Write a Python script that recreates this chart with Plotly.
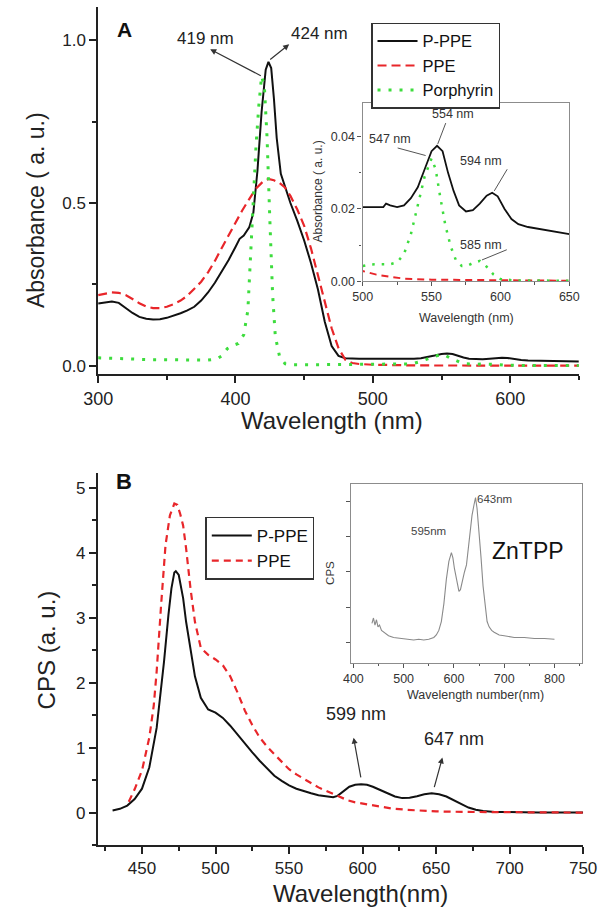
import plotly.graph_objects as go

FONT = "Liberation Sans, Arial, sans-serif"

# ---------------- Panel A : absorbance ----------------
a_pppe_x = [300, 305, 310, 315, 320, 325, 330, 335, 340, 345, 350, 355, 360, 365, 370, 375, 380, 385,
            390, 395, 400, 403, 406, 410, 413, 416, 419, 422, 424, 426, 428, 430, 433, 437, 440, 445,
            450, 455, 460, 465, 470, 475, 480, 490, 500, 510, 515, 517, 520, 525, 530, 535, 540, 545,
            550, 554, 558, 562, 566, 570, 575, 580, 585, 590, 594, 598, 603, 608, 613, 620, 630, 640, 650]
a_pppe_y = [0.191, 0.194, 0.197, 0.193, 0.178, 0.162, 0.150, 0.144, 0.142, 0.143, 0.147, 0.153, 0.161,
            0.170, 0.181, 0.200, 0.225, 0.255, 0.288, 0.325, 0.365, 0.390, 0.400, 0.425, 0.470, 0.600,
            0.780, 0.910, 0.934, 0.915, 0.820, 0.700, 0.590, 0.535, 0.500, 0.445, 0.385, 0.315, 0.235,
            0.135, 0.060, 0.030, 0.023, 0.021, 0.0205, 0.0205, 0.0205, 0.0215, 0.021, 0.0205, 0.021,
            0.023, 0.026, 0.031, 0.036, 0.0375, 0.036, 0.030, 0.025, 0.021, 0.0193, 0.0197, 0.0215,
            0.0237, 0.0245, 0.0235, 0.020, 0.0172, 0.0158, 0.015, 0.0143, 0.0136, 0.013]

a_ppe_x = [300, 305, 310, 315, 320, 325, 330, 335, 340, 345, 350, 355, 360, 365, 370, 375, 380, 385,
           390, 395, 400, 405, 410, 415, 420, 424, 428, 432, 436, 440, 445, 450, 455, 460, 465, 470,
           475, 480, 485, 490, 500, 510, 520, 530, 550, 600, 650]
a_ppe_y = [0.217, 0.222, 0.225, 0.224, 0.217, 0.205, 0.192, 0.182, 0.177, 0.177, 0.181, 0.189, 0.200,
           0.215, 0.235, 0.258, 0.287, 0.322, 0.362, 0.402, 0.440, 0.478, 0.512, 0.545, 0.566, 0.574,
           0.570, 0.562, 0.548, 0.522, 0.480, 0.430, 0.360, 0.278, 0.195, 0.115, 0.054, 0.018, 0.008,
           0.005, 0.0028, 0.0018, 0.0012, 0.0007, 0.0004, 0.0002, 0.0001]

a_por_x = [300, 310, 320, 330, 340, 350, 360, 370, 380, 386, 390, 394, 398, 402, 406, 409, 411, 413,
           415, 417, 419, 421, 423, 425, 427, 429, 432, 436, 440, 460, 480, 500, 505, 510, 515, 520,
           525, 530, 535, 540, 545, 550, 553, 556, 560, 564, 568, 572, 576, 580, 585, 590, 595, 600,
           610, 650]
a_por_y = [0.024, 0.022, 0.020, 0.019, 0.018, 0.018, 0.017, 0.017, 0.017, 0.020, 0.030, 0.052, 0.062,
           0.068, 0.095, 0.170, 0.350, 0.530, 0.680, 0.800, 0.890, 0.860, 0.700, 0.450, 0.220, 0.090,
           0.030, 0.006, 0.003, 0.003, 0.003, 0.0042, 0.0046, 0.0047, 0.0046, 0.0047, 0.0052, 0.0075,
           0.013, 0.021, 0.029, 0.034, 0.031, 0.024, 0.0155, 0.0095, 0.0055, 0.0042, 0.0043, 0.0050,
           0.0056, 0.0040, 0.0018, 0.0006, 0.0002, 0.0001]

# ---------------- Panel B : emission ----------------
b_pppe_x = [430, 435, 440, 445, 450, 455, 460, 465, 468, 470, 472, 473, 475, 478, 480, 483, 486, 490,
            495, 500, 505, 510, 515, 520, 525, 530, 535, 540, 545, 550, 555, 560, 565, 570, 575, 580,
            583, 587, 591, 595, 599, 603, 607, 612, 617, 622, 627, 632, 637, 642, 647, 652, 657, 662,
            667, 672, 677, 682, 690, 700, 720, 750]
b_pppe_y = [0.035, 0.06, 0.11, 0.21, 0.37, 0.70, 1.31, 2.33, 3.05, 3.45, 3.70, 3.72, 3.66, 3.30, 2.94,
            2.50, 2.10, 1.77, 1.59, 1.54, 1.46, 1.34, 1.20, 1.06, 0.93, 0.80, 0.68, 0.57, 0.49, 0.42,
            0.37, 0.33, 0.30, 0.27, 0.25, 0.24, 0.26, 0.33, 0.40, 0.43, 0.44, 0.43, 0.40, 0.35, 0.30,
            0.25, 0.225, 0.23, 0.255, 0.285, 0.30, 0.285, 0.25, 0.19, 0.13, 0.08, 0.045, 0.025, 0.012,
            0.008, 0.005, 0.004]

b_ppe_x = [441, 445, 450, 455, 458, 460, 463, 466, 469, 472, 474, 476, 478, 480, 483, 486, 490, 495,
           500, 505, 510, 515, 520, 525, 530, 535, 540, 545, 550, 555, 560, 565, 570, 575, 580, 585,
           590, 595, 600, 610, 620, 630, 640, 650, 670, 700, 750]
b_ppe_y = [0.17, 0.36, 0.65, 1.16, 1.65, 2.18, 3.20, 4.12, 4.58, 4.76, 4.74, 4.60, 4.42, 4.07, 3.45,
           2.94, 2.54, 2.43, 2.36, 2.27, 2.10, 1.85, 1.57, 1.35, 1.16, 1.02, 0.90, 0.78, 0.67, 0.59,
           0.52, 0.45, 0.39, 0.34, 0.29, 0.24, 0.19, 0.16, 0.14, 0.10, 0.065, 0.045, 0.03, 0.02, 0.012,
           0.006, 0.002]

b_zntpp_x = [437, 440, 443, 446, 449, 452, 456, 460, 465, 470, 480, 490, 500, 510, 520, 530, 540, 550,
             555, 560, 565, 570, 575, 580, 585, 590, 595, 598, 601, 605, 610, 613, 617, 621, 625, 628,
             632, 636, 640, 643, 646, 650, 654, 658, 662, 666, 670, 675, 680, 690, 700, 720, 740, 760,
             780, 800]
b_zntpp_y = [1.55, 1.70, 1.50, 1.65, 1.45, 1.50, 1.35, 1.30, 1.25, 1.20, 1.15, 1.13, 1.12, 1.10, 1.08,
             1.10, 1.08, 1.10, 1.12, 1.15, 1.22, 1.35, 1.60, 2.10, 2.80, 3.30, 3.55, 3.40, 3.10, 2.80,
             2.45, 2.50, 2.80, 3.00, 3.20, 3.60, 4.20, 4.60, 4.90, 5.10, 4.80, 4.20, 3.40, 2.60, 2.00,
             1.60, 1.45, 1.35, 1.30, 1.22, 1.20, 1.15, 1.15, 1.12, 1.12, 1.10]

BLACK = "#111111"
RED = "#e8262a"
GREEN = "#3ddc3d"
GREY = "#8a8a8a"


def px_x(p):
    return p / 610.0


def px_y(p):
    return 1 - p / 916.0


fig = go.Figure()

# main A
fig.add_trace(go.Scatter(x=a_pppe_x, y=a_pppe_y, name="P-PPE", mode="lines", line=dict(color=BLACK, width=2),
                         xaxis="x", yaxis="y", legend="legend"))
fig.add_trace(go.Scatter(x=a_ppe_x, y=a_ppe_y, name="PPE", mode="lines",
                         line=dict(color=RED, width=2.2, dash="9px,5px"), xaxis="x", yaxis="y", legend="legend"))
fig.add_trace(go.Scatter(x=a_por_x, y=a_por_y, name="Porphyrin", mode="lines",
                         line=dict(color=GREEN, width=3, dash="3px,8px"), xaxis="x", yaxis="y", legend="legend"))
# inset A
fig.add_trace(go.Scatter(x=a_pppe_x, y=a_pppe_y, mode="lines", line=dict(color=BLACK, width=1.8),
                         xaxis="x2", yaxis="y2", showlegend=False))
fig.add_trace(go.Scatter(x=a_ppe_x, y=a_ppe_y, mode="lines", line=dict(color=RED, width=2, dash="7px,5px"),
                         xaxis="x2", yaxis="y2", showlegend=False))
fig.add_trace(go.Scatter(x=a_por_x, y=a_por_y, mode="lines", line=dict(color=GREEN, width=2.5, dash="2.5px,7px"),
                         xaxis="x2", yaxis="y2", showlegend=False))
# main B
fig.add_trace(go.Scatter(x=b_pppe_x, y=b_pppe_y, name="P-PPE", mode="lines", line=dict(color=BLACK, width=2),
                         xaxis="x3", yaxis="y3", legend="legend2"))
fig.add_trace(go.Scatter(x=b_ppe_x, y=b_ppe_y, name="PPE", mode="lines",
                         line=dict(color=RED, width=2.2, dash="7px,5px"), xaxis="x3", yaxis="y3", legend="legend2"))
# inset B
fig.add_trace(go.Scatter(x=b_zntpp_x, y=b_zntpp_y, mode="lines", line=dict(color=GREY, width=1.1),
                         xaxis="x4", yaxis="y4", showlegend=False))

main_ax = dict(showline=True, linecolor="#222", linewidth=1.6, ticks="outside", ticklen=7, tickwidth=1.5,
               tickcolor="#222", showgrid=False, zeroline=False, tickfont=dict(size=17, color="#222"))
inset_ax = dict(showline=True, linecolor="#8c8c8c", linewidth=1.3, mirror=True, ticks="outside", ticklen=4,
                tickwidth=1, tickcolor="#555", showgrid=False, zeroline=False,
                tickfont=dict(size=12.5, color="#333"))

fig.update_layout(
    width=610, height=916, margin=dict(l=0, r=0, t=0, b=0),
    paper_bgcolor="white", plot_bgcolor="white",
    font=dict(family=FONT, color="#222"),
    xaxis=dict(main_ax, domain=[px_x(87.3), px_x(592)], range=[300, 650], anchor="y",
               tickvals=[300, 400, 500, 600], tickfont=dict(size=18, color="#222"),
               minor=dict(ticks="outside", ticklen=4, tickwidth=1.5, tickcolor="#222", dtick=50, tick0=300)),
    yaxis=dict(main_ax, domain=[px_y(377.3), px_y(7)], range=[-0.027, 1.103], anchor="x",
               tick0=0, dtick=0.5, tickformat=".1f",
               minor=dict(ticks="outside", ticklen=4, tickwidth=1.5, tickcolor="#222", dtick=0.25, tick0=0)),
    xaxis2=dict(inset_ax, domain=[px_x(365), px_x(582)], range=[500, 650], anchor="y2",
                tick0=500, dtick=50,
                minor=dict(ticks="outside", ticklen=2.5, tickcolor="#555", dtick=25, tick0=500)),
    yaxis2=dict(inset_ax, domain=[px_y(283.3), px_y(103.3)], range=[0, 0.0495], anchor="x2",
                tick0=0, dtick=0.02, tickformat=".2f",
                minor=dict(ticks="outside", ticklen=2.5, tickcolor="#555", dtick=0.01, tick0=0)),
    xaxis3=dict(main_ax, domain=[px_x(86.7), px_x(596.5)], range=[419.8, 750], anchor="y3",
                tick0=450, dtick=50,
                minor=dict(ticks="outside", ticklen=4, tickwidth=1.5, tickcolor="#222", dtick=25, tick0=425)),
    yaxis3=dict(main_ax, domain=[px_y(851.7), px_y(476.7)], range=[-0.5, 5.23], anchor="x3",
                tick0=0, dtick=1,
                minor=dict(ticks="outside", ticklen=4, tickwidth=1.5, tickcolor="#222", dtick=0.5, tick0=0)),
    xaxis4=dict(inset_ax, domain=[px_x(352.6), px_x(594.9)], range=[395, 854], anchor="y4",
                tick0=400, dtick=100,
                minor=dict(ticks="outside", ticklen=2.5, tickcolor="#555", dtick=50, tick0=400)),
    yaxis4=dict(inset_ax, domain=[px_y(667.7), px_y(487.6)], range=[0.44, 5.49], anchor="x4",
                tick0=1, dtick=1, showticklabels=False),
    legend=dict(x=px_x(374), y=px_y(22.7), xanchor="left", yanchor="top", bgcolor="white",
                bordercolor="#333", borderwidth=1.3, font=dict(size=16.5, color="#111"),
                tracegroupgap=0, itemwidth=40),
    legend2=dict(x=px_x(200), y=px_y(520.7), xanchor="left", yanchor="top", bgcolor="white",
                 bordercolor="#333", borderwidth=1.3, font=dict(size=17, color="#111"),
                 tracegroupgap=0, itemwidth=40),
)

ann = []


def text_ann(text, x, y, xref, yref, size, color="#222", angle=0, bold=False):
    ann.append(dict(text=("<b>%s</b>" % text) if bold else text, x=x, y=y, xref=xref, yref=yref,
                    showarrow=False, textangle=angle, xanchor="center", yanchor="middle",
                    font=dict(size=size, color=color, family=FONT)))


def line_ann(x0, y0, x1, y1, xr, yr, head=0, color="#333", width=1.2):
    # arrow/line from (x0,y0) to (x1,y1); arrowhead at (x1,y1)
    ann.append(dict(text="", x=x1, y=y1, ax=x0, ay=y0, xref=xr, yref=yr, axref=xr, ayref=yr,
                    showarrow=True, arrowhead=head, arrowsize=1, arrowwidth=width, arrowcolor=color,
                    standoff=0, startstandoff=0))


# axis titles
text_ann("Absorbance ( a. u.)", px_x(22), px_y(211.7), "paper", "paper", 23, angle=-90)
text_ann("Wavelength (nm)", px_x(333), px_y(424), "paper", "paper", 24)
text_ann("CPS (a. u.)", px_x(34), px_y(655), "paper", "paper", 24, angle=-90)
text_ann("Wavelength(nm)", px_x(363), px_y(900), "paper", "paper", 24)
text_ann("Absorbance ( a. u.)", px_x(318), px_y(193), "paper", "paper", 12, color="#333", angle=-90)
text_ann("Wavelength (nm)", px_x(474), px_y(320), "paper", "paper", 12.5, color="#333")
text_ann("CPS", px_x(330), px_y(577), "paper", "paper", 11.5, color="#333", angle=-90)
text_ann("Wavelength number(nm)", px_x(483), px_y(700), "paper", "paper", 12.5, color="#333")

# panel letters
text_ann("A", px_x(115), px_y(29.5), "paper", "paper", 21, color="#111", bold=True)
text_ann("B", px_x(114), px_y(485), "paper", "paper", 22, color="#111", bold=True)

# Panel A peak labels
text_ann("419 nm", 378, 1.005, "x", "y", 17)
line_ann(419.5, 0.889, 381.6, 0.973, "x", "y", head=2)
text_ann("424 nm", 461.5, 1.02, "x", "y", 17)
line_ann(424.2, 0.938, 439.1, 0.988, "x", "y", head=2)

# inset A labels
text_ann("554 nm", 565.7, 0.0463, "x2", "y2", 12.5, color="#333")
line_ann(554.1, 0.0376, 560.3, 0.0438, "x2", "y2", color="#555", width=1)
text_ann("547 nm", 520.2, 0.0394, "x2", "y2", 12.5, color="#333")
line_ann(546.8, 0.0347, 525.4, 0.0369, "x2", "y2", color="#555", width=1)
text_ann("594 nm", 586.2, 0.0334, "x2", "y2", 12.5, color="#333")
line_ann(594.9, 0.0246, 604.9, 0.031, "x2", "y2", color="#555", width=1)
text_ann("585 nm", 586.2, 0.0101, "x2", "y2", 12.5, color="#333")
line_ann(585.5, 0.0057, 604.6, 0.0087, "x2", "y2", color="#555", width=1)

# Panel B peak labels
text_ann("599 nm", 595.2, 1.52, "x3", "y3", 18)
line_ann(599, 0.52, 593.9, 1.156, "x3", "y3", head=2)
text_ann("647 nm", 662.4, 1.13, "x3", "y3", 18)
line_ann(648.5, 0.37, 654.3, 0.85, "x3", "y3", head=2)

# inset B labels
text_ann("595nm", 549, 4.16, "x4", "y4", 11.5, color="#444")
text_ann("643nm", 681.5, 5.06, "x4", "y4", 11.5, color="#444")
text_ann("ZnTPP", 748, 3.6, "x4", "y4", 23, color="#111")

fig.update_layout(annotations=ann)

page_fix = ("document.documentElement.style.margin='0';document.documentElement.style.padding='0';"
            "document.documentElement.style.overflow='hidden';"
            "document.body.style.margin='0';document.body.style.padding='0';"
            "document.body.style.overflow='hidden';")
fig.write_html("out.html", config={"displayModeBar": False}, post_script=page_fix)
